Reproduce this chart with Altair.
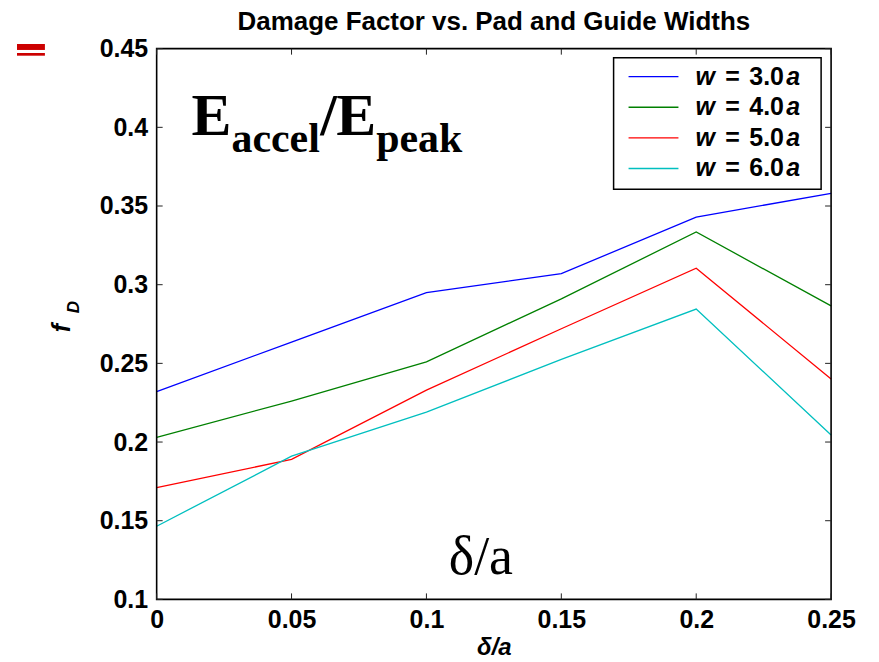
import altair as alt
import pandas as pd

# ---- data ----
delta = [0, 0.05, 0.1, 0.15, 0.2, 0.25]
series = ["w = 3.0a", "w = 4.0a", "w = 5.0a", "w = 6.0a"]
width_nums = ["3.0", "4.0", "5.0", "6.0"]
f_w30 = [0.232, 0.2635, 0.295, 0.307, 0.343, 0.358]
f_w40 = [0.203, 0.226, 0.251, 0.291, 0.3335, 0.2865]
f_w50 = [0.171, 0.189, 0.233, 0.272, 0.3105, 0.240]
f_w60 = [0.1465, 0.191, 0.219, 0.2525, 0.2845, 0.2045]
colors = ["#0000FF", "#008000", "#FF0000", "#00BFBF"]
x_ticks = [0, 0.05, 0.1, 0.15, 0.2, 0.25]
y_ticks = [0.1, 0.15, 0.2, 0.25, 0.3, 0.35, 0.4, 0.45]
title_text = "Damage Factor vs. Pad and Guide Widths"

W, H = 676, 552
SANS = "Liberation Sans"
SERIF = "Liberation Serif"

rows = []
for name, vals in zip(series, [f_w30, f_w40, f_w50, f_w60]):
    for d, v in zip(delta, vals):
        rows.append({"delta": d, "fD": v, "series": name})
df = pd.DataFrame(rows)

xscale = alt.Scale(domain=[0, 0.25], nice=False, zero=False)
yscale = alt.Scale(domain=[0.1, 0.45], nice=False, zero=False)
cscale = alt.Scale(domain=series, range=colors)

x_axis = alt.Axis(values=x_ticks, format="~g", labelFont=SANS, labelFontSize=25,
                  labelFontWeight="bold", labelColor="black", ticks=False, domain=False,
                  grid=False, labelPadding=8, labelFlush=False, labelOverlap=False,
                  title="δ/a", titleFont=SANS, titleFontSize=24, titleFontWeight="bold",
                  titleFontStyle="italic", titleColor="black", titlePadding=3)
y_axis = alt.Axis(values=y_ticks, format="~g", labelFont=SANS, labelFontSize=25,
                  labelFontWeight="bold", labelColor="black", ticks=False, domain=False,
                  grid=False, labelPadding=9, labelFlush=False, labelOverlap=False,
                  title=None)

lines = alt.Chart(df).mark_line(strokeWidth=1.3).encode(
    x=alt.X("delta:Q", scale=xscale, axis=x_axis),
    y=alt.Y("fD:Q", scale=yscale, axis=y_axis),
    color=alt.Color("series:N", scale=cscale, legend=None),
    detail="series:N",
)

one = pd.DataFrame({"k": [0]})

frame = alt.Chart(one).mark_rect(fill=None, stroke="black", strokeWidth=1.6).encode(
    x=alt.value(0), x2=alt.value(W), y=alt.value(0), y2=alt.value(H))

xt = pd.DataFrame({"delta": x_ticks})
yt = pd.DataFrame({"fD": y_ticks})
tick_style = dict(color="#222222", strokeWidth=1)
xticks_bottom = alt.Chart(xt).mark_rule(**tick_style).encode(
    x=alt.X("delta:Q", scale=xscale, axis=x_axis), y=alt.value(H), y2=alt.value(H - 6))
xticks_top = alt.Chart(xt).mark_rule(**tick_style).encode(
    x=alt.X("delta:Q", scale=xscale, axis=x_axis), y=alt.value(0), y2=alt.value(6))
yticks_left = alt.Chart(yt).mark_rule(**tick_style).encode(
    y=alt.Y("fD:Q", scale=yscale, axis=y_axis), x=alt.value(0), x2=alt.value(6))
yticks_right = alt.Chart(yt).mark_rule(**tick_style).encode(
    y=alt.Y("fD:Q", scale=yscale, axis=y_axis), x=alt.value(W), x2=alt.value(W - 6))


def txt(text, x, y, size, font=SANS, weight="bold", style="normal", align="left",
        baseline="middle", angle=0):
    return alt.Chart(one).mark_text(
        text=text, font=font, fontSize=size, fontWeight=weight, fontStyle=style,
        align=align, baseline=baseline, angle=angle, color="black"
    ).encode(x=alt.value(x), y=alt.value(y))

# legend
legend_layers = [
    alt.Chart(one).mark_rect(fill="white", stroke="black", strokeWidth=1.5).encode(
        x=alt.value(458), x2=alt.value(666), y=alt.value(9), y2=alt.value(141))
]
for i, (name, num, col) in enumerate(zip(series, width_nums, colors)):
    ly = 28 + i * 30.7
    legend_layers.append(
        alt.Chart(pd.DataFrame({"series": [name]})).mark_rule(strokeWidth=1.3).encode(
            x=alt.value(473), x2=alt.value(523), y=alt.value(ly),
            color=alt.Color("series:N", scale=cscale, legend=None)))
    legend_layers.append(txt("w", 540, ly, 25, style="italic"))
    legend_layers.append(txt("=", 570, ly, 25))
    legend_layers.append(txt(num, 594, ly, 25))
    legend_layers.append(txt("a", 631, ly, 25, style="italic"))

# annotations and title
annot = [
    txt(title_text, W / 2, -40, 26, align="center", baseline="top"),
    txt("E", 35, 87, 60, font=SERIF, baseline="alphabetic"),
    txt("accel", 75, 104, 42, font=SERIF, baseline="alphabetic"),
    txt("/", 164, 87, 60, font=SERIF, baseline="alphabetic"),
    txt("E", 180, 87, 60, font=SERIF, baseline="alphabetic"),
    txt("peak", 220, 104, 42, font=SERIF, baseline="alphabetic"),
    txt("δ/a", 325, 527, 54, font=SERIF, weight="normal", align="center",
        baseline="alphabetic"),
    txt("f", -95, 280, 25, style="italic", align="center", angle=270),
    txt("D", -83, 259, 17, style="italic", align="center", angle=270),
]

# red mark at the top-left corner
red = [
    alt.Chart(one).mark_rule(color="#CC0000", strokeWidth=6).encode(
        x=alt.value(-140), x2=alt.value(-112), y=alt.value(-1.7)),
    alt.Chart(one).mark_rule(color="#CC0000", strokeWidth=2.7).encode(
        x=alt.value(-140), x2=alt.value(-112), y=alt.value(5.7)),
]

chart = alt.layer(
    lines, frame, xticks_bottom, xticks_top, yticks_left, yticks_right,
    *legend_layers, *annot, *red
).properties(
    width=W, height=H,
    background="white",
    autosize=alt.AutoSizeParams(type="none"),
    padding={"left": 149, "top": 40, "right": 40, "bottom": 62},
).configure_view(stroke=None)

chart.save("out.html", embed_options={"renderer": "svg", "actions": False})
